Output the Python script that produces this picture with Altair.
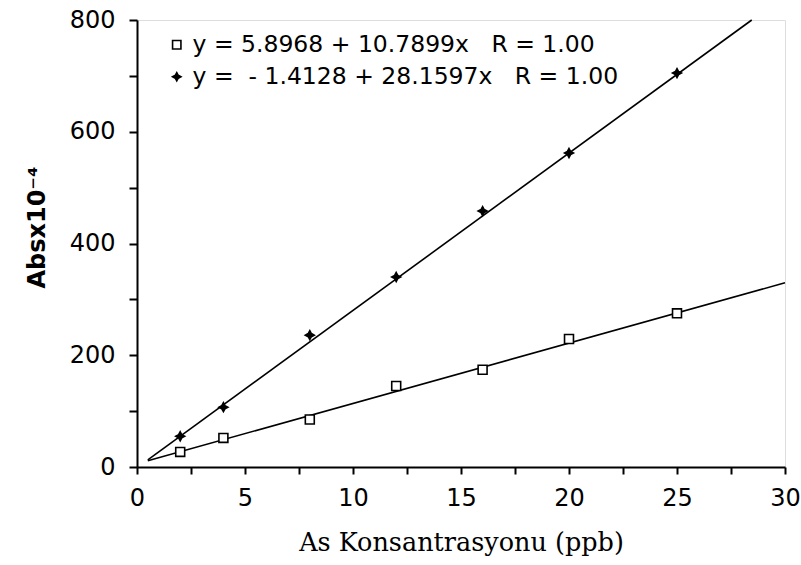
import altair as alt
import pandas as pd

conc = [2, 4, 8, 12, 16, 20, 25]
abs_square = [27, 52, 85, 145, 174, 229, 275]
abs_plus = [55, 107, 236, 340, 458, 562, 705]

lab_sq = "y = 5.8968 + 10.7899x\u00a0\u00a0\u00a0R = 1.00"
lab_pl = "y =\u00a0\u00a0- 1.4128 + 28.1597x\u00a0\u00a0\u00a0R = 1.00"
series_names = [lab_sq, lab_pl]
intercepts = [5.8968, -1.4128]
slopes = [10.7899, 28.1597]
x_start = [0.5, 0.5]
x_end = [30, (800 - intercepts[1]) / slopes[1]]

pts = pd.DataFrame({
    "x": conc * 2,
    "y": abs_square + abs_plus,
    "s": [lab_sq] * len(conc) + [lab_pl] * len(conc),
})

rows = []
for name, a, b, x0, x1 in zip(series_names, intercepts, slopes, x_start, x_end):
    rows.append({"x": x0, "y": a + b * x0, "s": name})
    rows.append({"x": x1, "y": a + b * x1, "s": name})
lines = pd.DataFrame(rows)

star = "M0,-1L0.35,-0.35L1,0L0.35,0.35L0,1L-0.35,0.35L-1,0L-0.35,-0.35Z"

xscale = alt.Scale(domain=[0, 30], nice=False, zero=False)
yscale = alt.Scale(domain=[0, 800], nice=False)

xaxis = alt.Axis(
    values=[i * 2.5 for i in range(13)],
    labelExpr="datum.value % 5 == 0 ? datum.value : ''",
    title="As Konsantrasyonu (ppb)",
    titleFont="DejaVu Serif", titleFontSize=25.5, titleFontWeight="normal",
    titleColor="black", titlePadding=20,
    labelFont="DejaVu Sans", labelFontSize=24, labelColor="black",
    labelPadding=12, tickSize=7, tickColor="black", domainColor="black",
    domainWidth=2, tickWidth=2, grid=False, labelFlush=False,
)
yaxis = alt.Axis(
    values=[i * 100 for i in range(9)],
    labelExpr="datum.value % 200 == 0 ? datum.value : ''",
    title="Absx10\u207b\u2074",
    titleFont="DejaVu Sans", titleFontSize=24, titleFontWeight="bold",
    titleColor="black", titleX=-88, titleY=207, titleAngle=270,
    titleAlign="center", titleBaseline="bottom",
    labelFont="DejaVu Sans", labelFontSize=24, labelColor="black",
    labelPadding=14, tickSize=8, tickColor="black", domainColor="black",
    domainWidth=2, tickWidth=2, grid=False,
)

legend = alt.Legend(
    title=None, orient="none", legendX=28, legendY=13,
    labelFont="DejaVu Sans", labelFontSize=23.5, labelColor="black", labelLimit=0,
    symbolSize=70, symbolStrokeWidth=1.6, rowPadding=7, labelOffset=4,
)

line_layer = alt.Chart(lines).mark_line(color="black", strokeWidth=1.6).encode(
    x=alt.X("x:Q", scale=xscale, axis=xaxis),
    y=alt.Y("y:Q", scale=yscale, axis=yaxis),
    detail="s:N",
)

pt_layer = alt.Chart(pts).mark_point(size=80, strokeWidth=1.6, opacity=1).encode(
    x=alt.X("x:Q", scale=xscale),
    y=alt.Y("y:Q", scale=yscale),
    shape=alt.Shape("s:N", scale=alt.Scale(domain=series_names, range=["square", star]), legend=legend),
    fill=alt.Fill("s:N", scale=alt.Scale(domain=series_names, range=["white", "black"]), legend=legend),
    stroke=alt.Stroke("s:N", scale=alt.Scale(domain=series_names, range=["black", "black"]), legend=legend),
)

chart = (line_layer + pt_layer).properties(
    width=648, height=447,
    autosize=alt.AutoSizeParams(type="none"),
    padding={"left": 137, "top": 20, "right": 16, "bottom": 98},
).configure_view(stroke=None).configure(background="white")

chart.save("out.html", embed_options={"renderer": "svg", "actions": False})
